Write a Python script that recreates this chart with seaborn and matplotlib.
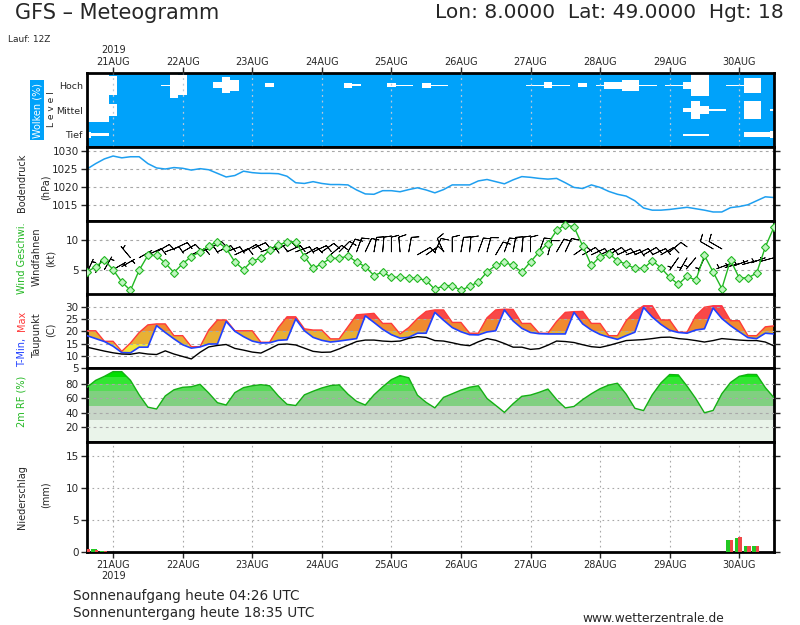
import matplotlib
matplotlib.use('Agg')
import matplotlib.pyplot as plt
import numpy as np
import seaborn as sns

sns.set_style('white')
plt.rcParams['font.family'] = ['DejaVu Sans']

W, H = 800, 625

# forecast hours after the 20 Aug 12Z run, every 3 h
hours = np.arange(3, 241, 3)
day_hours = np.arange(12, 229, 24)
day_labels = ['21AUG', '22AUG', '23AUG', '24AUG', '25AUG',
              '26AUG', '27AUG', '28AUG', '29AUG', '30AUG']

# cloud cover (%) per level
cloud_high = [100, 100, 100, 75, 0, 0, 0, 0, 0, 5, 100, 80, 0, 0, 0, 25, 65, 45, 0, 0,
              0, 15, 0, 0, 0, 0, 0, 0, 0, 0, 20, 8, 0, 0, 0, 15, 5, 5, 0, 20,
              6, 6, 0, 0, 0, 0, 0, 0, 0, 0, 0, 6, 6, 25, 6, 6, 0, 15, 0, 6,
              30, 30, 45, 45, 6, 6, 0, 6, 6, 30, 90, 90, 0, 0, 6, 6, 60, 60, 0, 0]
cloud_mid = [100, 100, 100, 50] + [0] * 65 + [20, 70, 30, 10, 10, 0, 0, 70, 70, 0, 5]
cloud_low = [25, 12, 12] + [0] * 66 + [8, 8, 8, 0, 0, 0, 0, 20, 20, 20, 30]

# surface pressure (hPa)
pressure = [1025.0, 1026.5, 1027.8, 1028.6, 1028.1, 1028.4, 1028.4, 1026.5, 1025.3, 1025.0,
            1025.4, 1025.2, 1024.7, 1025.1, 1024.8, 1023.8, 1022.8, 1023.2, 1024.4, 1024.0,
            1023.8, 1023.8, 1023.7, 1023.0, 1021.2, 1021.0, 1021.5, 1021.0, 1020.7, 1020.7,
            1020.6, 1019.2, 1018.1, 1018.0, 1019.0, 1019.0, 1018.7, 1019.3, 1019.8, 1019.2,
            1018.4, 1019.3, 1020.6, 1020.6, 1020.6, 1021.7, 1022.1, 1021.5, 1020.9, 1022.0,
            1022.9, 1022.7, 1022.4, 1022.2, 1022.4, 1021.2, 1019.9, 1019.6, 1020.6, 1019.9,
            1018.8, 1018.0, 1017.5, 1016.2, 1014.2, 1013.6, 1013.6, 1013.8, 1014.1, 1014.4,
            1014.0, 1013.6, 1013.1, 1013.1, 1014.3, 1014.6, 1015.1, 1016.2, 1017.3, 1017.1]

# 10 m wind speed (kt)
wind_speed = [4.6, 5.5, 6.6, 5.0, 2.9, 1.5, 4.9, 7.4, 7.4, 6.1, 4.5, 6.0, 7.2, 8.0, 9.0, 9.7,
              8.6, 6.3, 5.0, 6.5, 6.9, 8.3, 9.1, 9.7, 9.7, 7.2, 5.2, 6.0, 6.9, 6.9, 7.3, 6.3,
              5.5, 4.0, 4.6, 3.7, 3.7, 3.6, 3.5, 3.2, 1.65, 2.3, 2.3, 1.5, 2.2, 2.9, 4.6, 5.7,
              6.2, 5.7, 4.6, 6.3, 8.0, 9.4, 11.6, 12.6, 12.2, 9.0, 5.7, 7.2, 7.7, 6.5, 5.9, 5.2,
              5.2, 6.5, 5.3, 3.7, 2.5, 3.9, 3.2, 7.4, 4.6, 1.8, 6.6, 3.6, 3.6, 4.4, 8.8, 12.2]

# wind vanes: direction (deg, from) and speed (kt) of the barb wind
barb_dir = [25, 25, 30, 60, 60, 320, 60,
            65, 60, 70, 65, 60, 65, 70, 60, 65, 70, 65, 60, 65, 70, 65, 60, 65, 70, 60, 65, 55, 50, 45,
            30, 20, 25, 10, 5, 0, 355, 10, 60, 55, 25, 335, 0,
            10, 5, 20, 15, 30, 20, 10, 5, 0, 20, 15, 30, 25,
            55, 60, 65, 65, 60, 65, 70, 65, 60, 65, 60, 50,
            215, 210, 220, 205, 300, 300, 250, 255, 250, 255, 250, 255]
barb_kt = [4.5, 4.5, 5, 5, 5.5, 7, 7,
           7.5, 8, 8, 8.5, 8, 7.5, 8, 8.5, 8, 8, 7.5, 8, 8.5, 8, 8, 8.5, 8, 8, 7.5, 8, 8, 7.5, 8,
           8, 8, 8, 8, 8, 8, 8, 8, 7.5, 7.5, 8, 8, 8,
           8, 8, 8, 8, 7.5, 8, 8, 8, 8, 8, 7.5, 8, 8,
           7.5, 7.5, 7.5, 7.5, 7.5, 7.5, 7.5, 7.5, 7.5, 7.5, 7.5, 8,
           7, 7, 7, 7, 8.5, 8.5, 6, 6, 6.5, 6.5, 7, 7]

# 2 m temperature (C)
t_min = [18.2, 17.0, 15.8, 13.9, 11.3, 11.2, 13.5, 13.5, 22.3, 19.5, 16.9, 14.5, 13.1, 13.6, 14.8, 14.8,
         24.0, 20.0, 17.8, 16.0, 15.2, 15.3, 16.3, 16.5, 25.0, 20.2, 17.5, 16.3, 15.6, 16.0, 16.5, 17.0,
         26.3, 23.6, 20.8, 18.6, 17.2, 17.5, 19.2, 19.2, 27.7, 24.5, 21.5, 19.8, 18.6, 18.5, 19.7, 20.2,
         28.7, 24.2, 21.2, 19.5, 19.0, 18.9, 18.9, 18.9, 27.7, 23.0, 20.5, 18.7, 17.6, 16.7, 18.2, 19.6,
         29.7, 25.8, 22.8, 20.4, 19.5, 19.2, 20.5, 21.0, 29.5, 25.2, 22.3, 19.8, 17.4, 17.0, 19.2, 18.9]
t_max = [20.2, 20.2, 15.9, 15.9, 11.8, 15.2, 19.5, 22.6, 23.0, 23.0, 18.2, 18.2, 13.7, 13.7, 20.5, 24.6,
         24.6, 20.2, 20.2, 20.2, 15.5, 15.5, 21.5, 25.9, 25.9, 21.0, 20.5, 20.5, 16.9, 16.9, 21.8, 26.7,
         27.0, 27.3, 23.2, 23.2, 18.9, 21.5, 25.2, 28.1, 28.7, 28.7, 23.6, 23.6, 19.2, 19.2, 25.5, 28.7,
         29.0, 28.9, 23.2, 23.2, 19.2, 19.2, 24.0, 27.7, 28.0, 28.1, 23.2, 23.2, 18.2, 18.2, 24.3, 28.0,
         30.4, 30.4, 24.6, 24.6, 19.6, 19.6, 26.3, 29.8, 30.4, 30.4, 24.3, 24.3, 18.2, 18.2, 21.8, 22.2]
dewpoint = [13.5, 12.7, 11.9, 11.2, 10.7, 10.6, 11.2, 10.7, 10.5, 12.0, 10.7, 9.7, 8.7, 11.4, 13.6, 14.2,
            14.6, 13.0, 12.3, 11.5, 11.1, 12.8, 14.6, 14.8, 14.4, 13.1, 11.8, 11.4, 11.5, 12.8, 14.3, 15.8,
            16.4, 16.4, 16.0, 15.8, 16.0, 17.1, 17.8, 17.5, 16.2, 16.0, 15.3, 14.5, 14.1, 15.7, 17.0, 16.3,
            15.0, 13.5, 13.5, 12.6, 12.9, 14.3, 16.0, 15.8, 15.4, 14.5, 13.7, 13.4, 14.2, 15.2, 16.2, 16.4,
            16.6, 17.0, 17.5, 17.6, 17.0, 16.7, 16.2, 15.6, 16.2, 17.0, 16.7, 16.4, 16.2, 16.2, 15.6, 14.0]

# 2 m relative humidity (%)
rel_hum = [75.4, 85.0, 90.5, 97, 97, 85, 65, 48, 45.5, 63.5, 72, 75.4, 76.2, 79.5, 67.5, 54.2,
           51, 68, 75, 77.5, 79, 77.5, 63.5, 52, 50.3, 65, 70, 74.5, 77.8, 78.7, 66, 56,
           51, 65, 76, 86, 91.5, 88.5, 64.5, 54.6, 47, 61.5, 66.5, 71.5, 75.5, 77.5, 60, 50.5,
           40.8, 52.8, 63, 64.7, 68.5, 73, 58.5, 47, 49, 58.5, 66.5, 73.5, 78.5, 81, 66, 46.5,
           43.3, 65, 81.5, 93, 92.5, 77, 60, 40.3, 43.5, 66.5, 82, 90.5, 93.2, 93, 75, 61]

# precipitation (mm / 3 h), only the steps with rain
rain_hours = [3, 6, 9, 225, 228, 231, 234]
rain_total = [0.3, 0.4, 0.1, 1.8, 2.2, 0.9, 0.9]
rain_conv = [0.4, 0.3, 0.15, 1.8, 2.3, 0.9, 0.9]

SKY = '#00a2fa'
GRID = dict(color='#a8a8a8', linestyle=(0, (2.5, 3)), linewidth=0.8)

fig = plt.figure(figsize=(W / 100, H / 100), dpi=100)


def panel(top, bottom):
    ax = fig.add_axes([87 / W, 1 - bottom / H, 687 / W, (bottom - top) / H])
    ax.set_xlim(3, 240)
    ax.set_xticks(day_hours)
    for s in ax.spines.values():
        s.set_linewidth(2.0)
        s.set_color('black')
    ax.tick_params(axis='y', direction='out', length=4.5, width=1, pad=1.5,
                   labelsize=7.5, left=True, right=True, labelright=False)
    ax.tick_params(axis='x', length=0, labelbottom=False)
    return ax


def ftext(x, y, s, **kw):
    kw.setdefault('ha', 'center')
    kw.setdefault('va', 'center')
    fig.text(x / W, 1 - y / H, s, **kw)


def clipped_bands(ax, lower, upper, bands):
    poly = ax.fill_between(hours, lower, upper, facecolor='none', edgecolor='none')
    path = poly.get_paths()[0]
    for lo, hi, col in bands:
        span = ax.axhspan(lo, hi, color=col, lw=0, zorder=1)
        span.set_clip_path(path, ax.transData)


# ---- clouds
ax_c = panel(73, 147)
ax_c.set_facecolor(SKY)
ax_c.set_ylim(0, 3)
for level, cover in ((2.5, cloud_high), (1.5, cloud_mid), (0.5, cloud_low)):
    c = np.array(cover) / 100.0
    ax_c.bar(hours, c, width=3, bottom=level - c / 2, color='white', lw=0, zorder=1.5)
ax_c.set_yticks([0.5, 1.5, 2.5], ['Tief', 'Mittel', 'Hoch'])
ax_c.tick_params(axis='y', length=0, pad=3, labelsize=6.8, right=False)
ax_c.xaxis.set_ticks_position('top')
ax_c.set_xticks(day_hours, day_labels)
ax_c.tick_params(axis='x', top=True, labeltop=True, length=4, width=1,
                 direction='out', pad=0.5, labelsize=7)
ax_c.set_axisbelow(False)
ax_c.grid(axis='x', color='#b8c8d8', linestyle=(0, (1.5, 3)), linewidth=0.9)

# ---- pressure
ax_p = panel(147, 221)
sns.lineplot(x=hours, y=pressure, ax=ax_p, color='#1e9ff0', linewidth=1.1)
ax_p.set_ylim(1010.6, 1031.1)
ax_p.set_yticks([1015, 1020, 1025, 1030])
ax_p.grid(axis='y', **GRID)

# ---- wind
ax_w = panel(221, 294.5)
ax_w.set_ylim(0.8, 13.2)
ax_w.set_yticks([5, 10])
ax_w.grid(axis='y', **GRID)
rad = np.deg2rad(barb_dir)
bk = np.array(barb_kt)
ax_w.barbs(hours, bk, -bk * np.sin(rad), -bk * np.cos(rad), length=4.6,
           linewidth=0.6, color='black', zorder=3,
           sizes=dict(height=0.5, width=0.25))
sns.lineplot(x=hours, y=wind_speed, ax=ax_w, color='#22b822', linewidth=1.0,
             marker='D', markersize=3.8, markerfacecolor='#c0f5c0',
             markeredgecolor='#22b822', markeredgewidth=0.8, zorder=4)

# ---- temperature
ax_t = panel(294.5, 368)
ax_t.set_ylim(5, 35)
ax_t.set_yticks([5, 10, 15, 20, 25, 30])
clipped_bands(ax_t, t_min, t_max,
              [(0, 15, '#f2e838'), (15, 20, '#e8b034'), (20, 25, '#f08a30'),
               (25, 30, '#f84848'), (30, 40, '#f0208a')])
sns.lineplot(x=hours, y=t_max, ax=ax_t, color='#ff3a3a', linewidth=1.0, zorder=3)
sns.lineplot(x=hours, y=t_min, ax=ax_t, color='#2040ff', linewidth=1.2, zorder=3)
sns.lineplot(x=hours, y=dewpoint, ax=ax_t, color='black', linewidth=1.0, zorder=3)
ax_t.set_axisbelow(False)
ax_t.grid(axis='y', **GRID)

# ---- relative humidity
ax_r = panel(368, 442)
ax_r.set_ylim(0, 102)
ax_r.set_yticks([20, 40, 60, 80])
clipped_bands(ax_r, np.zeros(len(hours)), rel_hum,
              [(0, 30, '#eaf4ea'), (30, 50, '#c8d6c8'), (50, 70, '#80d080'),
               (70, 80, '#56dc56'), (80, 90, '#32e632'), (90, 110, '#00e000')])
sns.lineplot(x=hours, y=rel_hum, ax=ax_r, color='#14b014', linewidth=1.0, zorder=3)
ax_r.set_axisbelow(False)
ax_r.grid(axis='y', **GRID)

# ---- precipitation
ax_n = panel(442, 552)
ax_n.set_ylim(0, 17.1)
ax_n.set_yticks([0, 5, 10, 15])
rh = np.array(rain_hours)
ax_n.bar(rh - 0.6, rain_total, width=1.8, color='#22c822', lw=0, zorder=3)
ax_n.bar(rh + 0.35, rain_conv, width=1.2, color='#f04848', lw=0, zorder=4)
ax_n.set_xticks(day_hours, day_labels)
ax_n.tick_params(axis='x', bottom=True, labelbottom=True, length=4, width=1,
                 direction='out', pad=1.5, labelsize=7)
ax_n.grid(axis='both', color='#a8a8a8', linestyle=(0, (1.5, 3)), linewidth=0.8)

for ax in (ax_c, ax_p, ax_w, ax_t, ax_r, ax_n):
    ax.set(xlabel='', ylabel='')

# ---- texts
ftext(15, 13, 'GFS \u2013 Meteogramm', ha='left', size=15)
ftext(435, 13, 'Lon: 8.0000  Lat: 49.0000  Hgt: 18', ha='left', size=14.5)
ftext(8, 39, 'Lauf: 12Z', ha='left', size=6.5)
ftext(113.5, 50, '2019', size=7)
ftext(113.5, 576, '2019', size=7)

ftext(37, 110, 'Wolken (%)', rotation=90, color='white', size=7,
      bbox=dict(facecolor=SKY, edgecolor='none', pad=1.5))
ftext(52, 109, 'L e v e l', rotation=90, size=6.5)
ftext(22, 183, 'Bodendruck', rotation=90, size=7)
ftext(46, 187, '(hPa)', rotation=90, size=7)
ftext(22, 258, 'Wind Geschwi.', rotation=90, size=7, color='#22b822')
ftext(37, 257, 'Windfahnen', rotation=90, size=7)
ftext(51, 258, '(kt)', rotation=90, size=7)
ftext(22, 352, 'T-Min,', rotation=90, size=7, color='#2040ff')
ftext(22, 321, 'Max', rotation=90, size=7, color='#ff3a3a')
ftext(37, 336, 'Taupunkt', rotation=90, size=7)
ftext(51, 330, '(C)', rotation=90, size=7)
ftext(22, 401, '2m RF (%)', rotation=90, size=7, color='#22b822')
ftext(22, 497, 'Niederschlag', rotation=90, size=7)
ftext(46, 495, '(mm)', rotation=90, size=7)

ftext(73, 596, 'Sonnenaufgang heute 04:26 UTC', ha='left', size=9.8)
ftext(73, 613, 'Sonnenuntergang heute 18:35 UTC', ha='left', size=9.8)
ftext(582, 618, 'www.wetterzentrale.de', ha='left', size=8.8)

fig.savefig('out.png', dpi=100)
